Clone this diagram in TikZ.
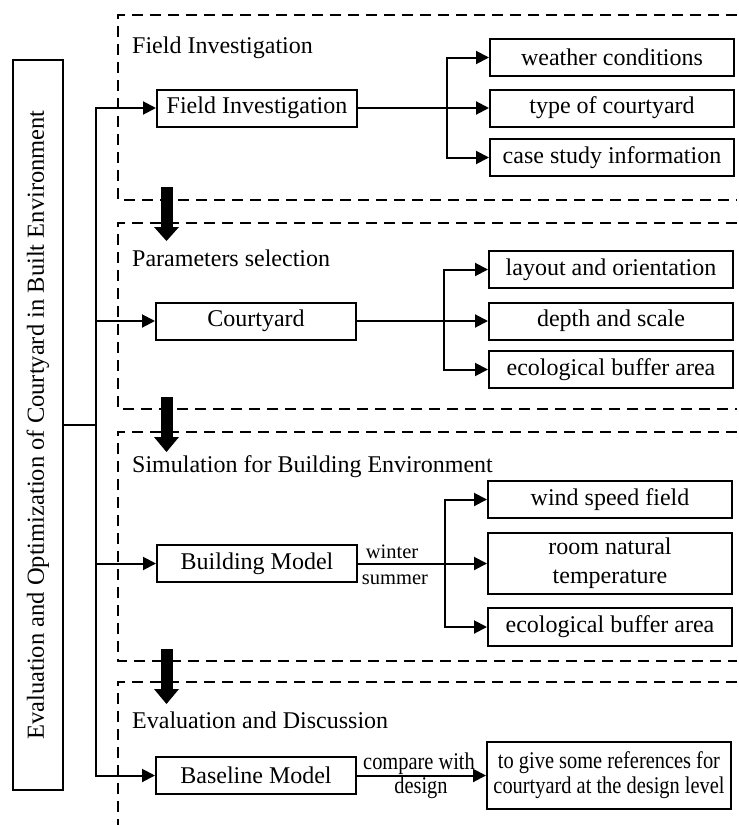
\documentclass[tikz,border=0pt]{standalone}
\usepackage{fontspec}
\setmainfont{Liberation Serif}
\newfontfamily\narrowfont[FakeStretch=0.85]{Liberation Serif}
\usetikzlibrary{arrows.meta}
\begin{document}
\begin{tikzpicture}[x=1pt,y=-1pt,
  box/.style={draw,line width=2pt,inner sep=0pt,align=center,font=\fontsize{24}{29}\selectfont},
  mainbox/.style={box,minimum width=200,minimum height=37},
  sidebox/.style={box,minimum width=244,minimum height=37},
  arr/.style={line width=2pt,-{Triangle[length=13pt,width=13pt]}},
  ln/.style={line width=2pt},
  sec/.style={line width=2pt,dash pattern=on 11pt off 7pt},
  sectitle/.style={anchor=base west,inner sep=0pt,font=\fontsize{24}{29}\selectfont},
  small/.style={inner sep=0pt,font=\fontsize{20.5}{24}\selectfont},
  narrow/.style={inner sep=0pt,font=\narrowfont\fontsize{24}{25}\selectfont},
  blockarrow/.style={fill=black}
]
\useasboundingbox (0,0) rectangle (739,825);

% dashed sections
\draw[sec] (737,15) -- (118,15) -- (118,200) -- (737,200);
\draw[sec] (737,223) -- (118,223) -- (118,409) -- (737,409);
\draw[sec] (737,432) -- (118,432) -- (118,661) -- (737,661);
\draw[sec] (737,682) -- (118,682) -- (118,825);

% block arrows between sections
\fill[blockarrow] (160.5,187) rectangle (172.5,228);
\fill[blockarrow] (154,227) -- (179,227) -- (166.5,241) -- cycle;
\fill[blockarrow] (160.5,397) rectangle (172.5,438);
\fill[blockarrow] (154,437) -- (179,437) -- (166.5,452) -- cycle;
\fill[blockarrow] (160.5,649) rectangle (172.5,690);
\fill[blockarrow] (154,689) -- (179,689) -- (166.5,704) -- cycle;

% section titles
\node[sectitle] (t1) at (132,53) {Field Investigation};
\node[sectitle] (t2) at (132,266) {Parameters selection};
\node[sectitle] (t3) at (132,472) {Simulation for Building Environment};
\node[sectitle] (t4) at (132,728) {Evaluation and Discussion};

% main vertical box
\node[draw,line width=2pt,rotate=90,minimum width=730,minimum height=50,inner sep=0pt,
      font=\fontsize{24.5}{29}\selectfont] (main) at (38,425)
  {Evaluation and Optimization of Courtyard in Built Environment};

% section 1
\node[mainbox] (field) at (257,108) {Field Investigation};
\node[sidebox] (weather) at (612,57.5) {weather conditions};
\node[sidebox] (type) at (612,108) {type of courtyard};
\node[sidebox] (case) at (612,157.5) {case study information};

% section 2
\node[mainbox] (court) at (256,321) {Courtyard};
\node[sidebox] (layout) at (611,269.5) {layout and orientation};
\node[sidebox] (depth) at (611,321) {depth and scale};
\node[sidebox] (eco1) at (611,369.5) {ecological buffer area};

% section 3
\node[mainbox] (bmodel) at (257,563.5) {Building Model};
\node[sidebox] (wind) at (610,499.5) {wind speed field};
\node[sidebox,minimum height=61] (room) at (610,563.5) {room natural\\temperature};
\node[sidebox,minimum height=38] (eco2) at (610,627) {ecological buffer area};
\node[small] (winter) at (392,552) {winter};
\node[small] (summer) at (395,580) {summer};

% section 4
\node[mainbox] (base) at (256,775.5) {Baseline Model};
\node[box,minimum width=244,minimum height=67,font=\narrowfont\fontsize{24}{25}\selectfont]
  (result) at (609,775.5) {to give some references for\\courtyard at the design level};
\node[narrow] (cmp) at (419,764) {compare with};
\node[narrow] (dsg) at (421,788) {design};

% trunk
\coordinate (tmid) at (96,425);
\coordinate (tr1) at (96,108);
\coordinate (tr2) at (96,321);
\coordinate (tr3) at (96,563.5);
\coordinate (tr4) at (96,775.5);
\draw[ln] (main.south) -- (tmid);
\draw[ln,line cap=rect] (tr1) -- (tr4);
\draw[arr] (tr1) -- (field.west);
\draw[arr] (tr2) -- (court.west);
\draw[arr] (tr3) -- (bmodel.west);
\draw[arr] (tr4) -- (base.west);

% branches
\coordinate (b1) at (447,108);
\draw[arr] (field.east) -- (type.west);
\draw[arr] (b1) |- (weather.west);
\draw[arr] (b1) |- (case.west);

\coordinate (b2) at (444,321);
\draw[arr] (court.east) -- (depth.west);
\draw[arr] (b2) |- (layout.west);
\draw[arr] (b2) |- (eco1.west);

\coordinate (b3) at (445,563.5);
\draw[arr] (bmodel.east) -- (room.west);
\draw[arr] (b3) |- (wind.west);
\draw[arr] (b3) |- (eco2.west);

\draw[arr] (base.east) -- (result.west);
\end{tikzpicture}
\end{document}
